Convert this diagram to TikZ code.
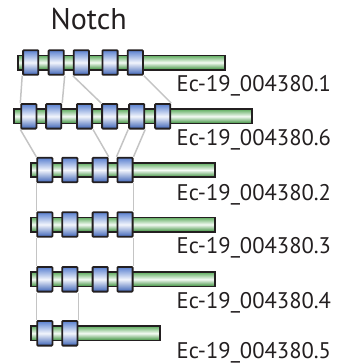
\documentclass[tikz,border=0pt]{standalone}
\usepackage{fontspec}
\setmainfont{PT Sans}
\pgfdeclarelayer{background}
\pgfsetlayers{background,main}
\definecolor{edgec}{HTML}{231F20}
\definecolor{blueA}{HTML}{5A80D0}
\definecolor{blueB}{HTML}{F2F5FC}
\definecolor{blueC}{HTML}{3D63B6}
\definecolor{greenA}{HTML}{5FAD5F}
\definecolor{greenB}{HTML}{F4FAF4}
\definecolor{greenC}{HTML}{3D913D}
\definecolor{linkc}{HTML}{C4C4C4}
\tikzset{
  bar/.style={draw=edgec, line width=1.8pt, rectangle, inner sep=0pt,
    minimum height=14.2pt, anchor=west,
    top color=greenA, bottom color=greenC, middle color=greenB},
  dom/.style={draw=edgec, line width=1.8pt, rectangle, inner sep=0pt,
    rounded corners=0.8pt, minimum width=15.2pt, minimum height=24.6pt,
    top color=blueA, bottom color=blueC, middle color=blueB},
  lab/.style={inner sep=0pt, anchor=base west, text=edgec,
    font=\fontsize{22.6}{22.6}\selectfont},
  ttl/.style={inner sep=0pt, anchor=base west, text=edgec,
    font=\fontsize{30}{30}\selectfont},
  link/.style={draw=linkc, line width=1.5pt}
}
\begin{document}
\begin{tikzpicture}[x=1pt,y=-1pt]
\useasboundingbox (0,0) rectangle (337,364);
\node[ttl] (title) at (50.5,29.3) {Notch};
% bars
\node[bar, minimum width=207pt] (bar1) at (16.7,62.5) {};
\node[bar, minimum width=237.9pt] (bar2) at (13.3,116.3) {};
\node[bar, minimum width=184.2pt] (bar3) at (30,170) {};
\node[bar, minimum width=184.2pt] (bar4) at (30,224.5) {};
\node[bar, minimum width=184.2pt] (bar5) at (30,279.3) {};
\node[bar, minimum width=128.9pt] (bar6) at (30,333.3) {};
% domains
\foreach \x [count=\i] in {30.7,56.2,81.3,110,135.3}
  \node[dom] (r1b\i) at (\x,62.5) {};
\foreach \x [count=\i] in {28.8,53.7,84.5,109.7,136.7,162.7}
  \node[dom] (r2b\i) at (\x,116.3) {};
\foreach \x [count=\i] in {44.8,69.8,100.2,125}
  \node[dom] (r3b\i) at (\x,170) {};
\foreach \x [count=\i] in {44.8,69.8,100.2,125}
  \node[dom] (r4b\i) at (\x,224.5) {};
\foreach \x [count=\i] in {44.8,69.8,100.2,125}
  \node[dom] (r5b\i) at (\x,279.3) {};
\foreach \x [count=\i] in {44.8,69.8}
  \node[dom] (r6b\i) at (\x,333.3) {};
% labels
\node[lab] (l1) at (176.5,91.7) {Ec-19\_004380.1};
\node[lab] (l2) at (176.5,145.7) {Ec-19\_004380.6};
\node[lab] (l3) at (176.5,200) {Ec-19\_004380.2};
\node[lab] (l4) at (176.5,253.3) {Ec-19\_004380.3};
\node[lab] (l5) at (176.5,308.3) {Ec-19\_004380.4};
\node[lab] (l6) at (176.5,358.3) {Ec-19\_004380.5};
% links
\begin{pgfonlayer}{background}
\draw[link] (r1b1.south west) -- (r2b1.north west);
\draw[link] (r1b2.south east) -- (r2b2.north east);
\draw[link] (r1b3.south west) -- (r2b4.north west);
\draw[link] (r1b5.south east) -- (r2b6.north east);
\draw[link] (r2b1.south west) -- (r3b1.north west);
\draw[link] (r2b3.south east) -- (r3b3.north east);
\draw[link] (r2b5.south west) -- (r3b4.north west);
\draw[link] (r2b5.south east) -- (r3b4.north east);
\draw[link] (r3b1.south west) -- (r4b1.north west);
\draw[link] (r3b4.south east) -- (r4b4.north east);
\draw[link] (r4b1.south west) -- (r5b1.north west);
\draw[link] (r4b4.south east) -- (r5b4.north east);
\draw[link] (r5b1.south west) -- (r6b1.north west);
\draw[link] (r5b2.south east) -- (r6b2.north east);
\end{pgfonlayer}
\end{tikzpicture}
\end{document}
